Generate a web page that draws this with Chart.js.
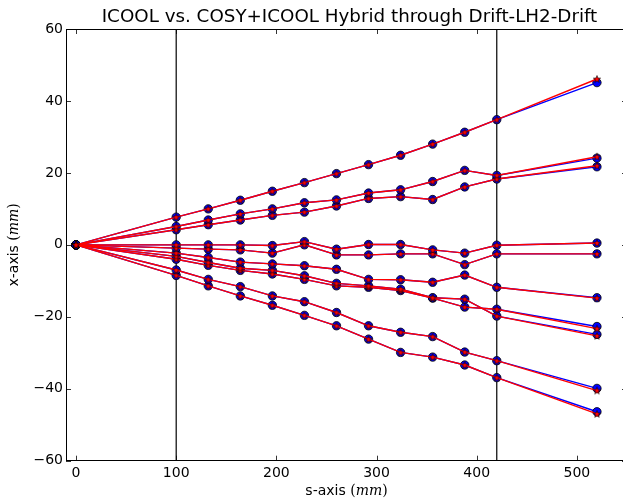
<!DOCTYPE html>
<html><head><meta charset="utf-8">
<script src="https://cdn.jsdelivr.net/npm/chart.js@4"></script>
<style>
html,body{margin:0;padding:0;overflow:hidden;background:#fff;width:623px;height:501px}
#wrap{position:relative;width:640px;height:501px}
</style></head>
<body><div id="wrap"><canvas id="c" width="640" height="501"></canvas></div>
<script>
// s positions (mm) of the recorded points
const sPositions = [0, 100, 132, 164, 196, 228, 260, 292, 324, 356, 388, 420, 520];
// x positions (mm) of each particle, ICOOL (blue circles)
const icoolT1 = [0, 7.7, 10.0, 12.4, 14.9, 17.3, 19.8, 22.3, 24.9, 28.0, 31.3, 34.8, 45.1];
const icoolT2 = [0, 5.1, 6.9, 8.6, 10.0, 11.7, 12.5, 14.4, 15.3, 17.6, 20.7, 19.3, 24.1];
const icoolT3 = [0, 4.2, 5.6, 6.9, 8.2, 9.1, 10.8, 12.9, 13.4, 12.6, 16.1, 18.3, 21.7];
const icoolT4 = [0, 0.0, 0.0, 0.0, -0.2, 0.9, -1.2, 0.1, 0.1, -1.4, -2.3, -0.1, 0.5];
const icoolT5 = [0, -0.9, -1.2, -1.4, -2.3, 0.0, -2.8, -2.8, -2.5, -2.5, -5.5, -2.5, -2.5];
const icoolT6 = [0, -2.3, -3.5, -4.8, -5.3, -5.8, -6.8, -9.6, -9.7, -10.4, -8.4, -11.8, -14.7];
const icoolT7 = [0, -3.2, -4.9, -6.5, -7.1, -8.6, -10.7, -11.4, -12.3, -14.7, -15.1, -19.8, -24.9];
const icoolT8 = [0, -4.0, -5.7, -7.1, -8.1, -9.6, -11.4, -11.8, -12.7, -14.8, -17.3, -17.9, -22.7];
const icoolT9 = [0, -7.0, -9.6, -11.6, -14.2, -15.8, -18.8, -22.5, -24.3, -25.5, -29.8, -32.2, -39.9];
const icoolT10 = [0, -8.5, -11.4, -14.2, -16.8, -19.6, -22.5, -26.2, -29.9, -31.2, -33.4, -36.9, -46.4];
// COSY+ICOOL hybrid (red stars)
const hybridT1 = [0, 7.7, 10.0, 12.4, 14.9, 17.3, 19.8, 22.3, 24.9, 28.0, 31.3, 34.8, 46.1];
const hybridT2 = [0, 5.1, 6.9, 8.6, 10.0, 11.7, 12.5, 14.4, 15.3, 17.6, 20.7, 19.3, 24.5];
const hybridT3 = [0, 4.2, 5.6, 6.9, 8.2, 9.1, 10.8, 12.9, 13.4, 12.6, 16.1, 18.3, 22.0];
const hybridT4 = [0, 0.0, 0.0, 0.0, -0.2, 0.9, -1.2, 0.1, 0.1, -1.4, -2.3, -0.1, 0.5];
const hybridT5 = [0, -0.9, -1.2, -1.4, -2.3, 0.0, -2.8, -2.8, -2.5, -2.5, -5.5, -2.5, -2.5];
const hybridT6 = [0, -2.3, -3.5, -4.8, -5.3, -5.8, -6.8, -9.6, -9.7, -10.4, -8.4, -11.8, -14.8];
const hybridT7 = [0, -3.2, -4.9, -6.5, -7.1, -8.6, -10.7, -11.4, -12.3, -14.7, -15.1, -19.8, -25.3];
const hybridT8 = [0, -4.0, -5.7, -7.1, -8.1, -9.6, -11.4, -11.8, -12.7, -14.8, -17.3, -17.9, -23.3];
const hybridT9 = [0, -7.0, -9.6, -11.6, -14.2, -15.8, -18.8, -22.5, -24.3, -25.5, -29.8, -32.2, -40.5];
const hybridT10 = [0, -8.5, -11.4, -14.2, -16.8, -19.6, -22.5, -26.2, -29.9, -31.2, -33.4, -36.9, -47.0];
// boundaries of the LH2 absorber (mm)
const absorberEdges = [100, 420];
// axis ticks
const xTicks = [0, 100, 200, 300, 400, 500];
const yTicks = [-60, -40, -20, 0, 20, 40, 60];
const xRange = [-10, 550];
const yRange = [-60, 60];

const icoolTracks = [icoolT1, icoolT2, icoolT3, icoolT4, icoolT5, icoolT6, icoolT7, icoolT8, icoolT9, icoolT10];
const hybridTracks = [hybridT1, hybridT2, hybridT3, hybridT4, hybridT5, hybridT6, hybridT7, hybridT8, hybridT9, hybridT10];

const FONT = "'DejaVu Sans', sans-serif";

// filled star marker
const star = document.createElement('canvas');
star.width = 10; star.height = 10;
(function(){
  const g = star.getContext('2d');
  g.beginPath();
  for (let i = 0; i < 10; i++) {
    const r = i % 2 === 0 ? 3.8 : 1.6;
    const a = -Math.PI / 2 + i * Math.PI / 5;
    const px = 5 + r * Math.cos(a), py = 5.3 + r * Math.sin(a);
    if (i === 0) g.moveTo(px, py); else g.lineTo(px, py);
  }
  g.closePath();
  g.fillStyle = '#ff0000'; g.fill();
  g.lineWidth = 0.6; g.strokeStyle = '#000'; g.stroke();
})();

const toPts = arr => sPositions.map((s, i) => ({x: s, y: arr[i]}));

const datasets = [];
absorberEdges.forEach(s => datasets.push({
  data: [{x: s, y: yRange[0]}, {x: s, y: yRange[1]}],
  borderColor: '#000', borderWidth: 1.2, pointRadius: 0, order: 3, fill: false
}));
icoolTracks.forEach(t => datasets.push({
  data: toPts(t), borderColor: '#0000ff', borderWidth: 1.4,
  pointStyle: 'circle', pointRadius: 4.2, pointBackgroundColor: '#0000ff',
  pointBorderColor: '#000', pointBorderWidth: 0.8, order: 2, fill: false, tension: 0
}));
hybridTracks.forEach(t => datasets.push({
  data: toPts(t), borderColor: '#ff0000', borderWidth: 1.4,
  pointStyle: star, pointRadius: 4, order: 1, fill: false, tension: 0
}));

const fmt = v => String(v).replace('-', '\u2212');

const decor = {
  id: 'decor',
  afterDraw(chart) {
    const {ctx, chartArea: a, scales: {x, y}} = chart;
    ctx.save();
    ctx.strokeStyle = '#000'; ctx.lineWidth = 1;
    // top & right spines
    ctx.beginPath();
    ctx.moveTo(a.left, a.top + 0.5); ctx.lineTo(a.right, a.top + 0.5);
    ctx.moveTo(a.right - 0.5, a.top); ctx.lineTo(a.right - 0.5, a.bottom);
    ctx.stroke();
    // inward ticks
    ctx.lineWidth = 0.8;
    ctx.beginPath();
    xTicks.forEach(v => {
      const p = Math.round(x.getPixelForValue(v)) + 0.5;
      ctx.moveTo(p, a.bottom); ctx.lineTo(p, a.bottom - 5);
      ctx.moveTo(p, a.top); ctx.lineTo(p, a.top + 5);
    });
    yTicks.forEach(v => {
      const p = Math.round(y.getPixelForValue(v)) + 0.5;
      ctx.moveTo(a.left, p); ctx.lineTo(a.left + 5, p);
      ctx.moveTo(a.right, p); ctx.lineTo(a.right - 5, p);
    });
    ctx.stroke();
    // title
    ctx.fillStyle = '#000';
    ctx.textAlign = 'center'; ctx.textBaseline = 'alphabetic';
    ctx.font = "18.3px " + FONT;
    ctx.fillText('ICOOL vs. COSY+ICOOL Hybrid through Drift-LH2-Drift', (a.left + a.right) / 2 + 3, a.top - 7);
    // axis labels with math-style unit
    function mixed(parts, cx, cy, rot) {
      ctx.save();
      ctx.translate(cx, cy); ctx.rotate(rot);
      let w = 0;
      parts.forEach(p => { ctx.font = p[1]; w += ctx.measureText(p[0]).width; });
      let xx = -w / 2;
      ctx.textAlign = 'left';
      parts.forEach(p => { ctx.font = p[1]; ctx.fillText(p[0], xx, 0); xx += ctx.measureText(p[0]).width; });
      ctx.restore();
    }
    const sans = "14px " + FONT, serif = "14px 'DejaVu Serif', serif", ital = "italic 14px 'DejaVu Serif', serif";
    mixed([['s-axis ', sans], ['(', serif], ['mm', ital], [')', serif]], (a.left + a.right) / 2, 495, 0);
    mixed([['x-axis ', sans], ['(', serif], ['mm', ital], [')', serif]], 18, (a.top + a.bottom) / 2, -Math.PI / 2);
    ctx.restore();
  }
};

new Chart(document.getElementById('c'), {
  type: 'line',
  data: {datasets},
  options: {
    responsive: false, animation: false, devicePixelRatio: 1,
    layout: {padding: {top: 29, right: 13, left: 0, bottom: 0}},
    plugins: {legend: {display: false}, tooltip: {enabled: false}, title: {display: false}},
    scales: {
      x: {
        type: 'linear', min: xRange[0], max: xRange[1],
        afterBuildTicks: s => { s.ticks = xTicks.map(v => ({value: v})); },
        afterFit: s => { s.height = 40.3; },
        grid: {drawOnChartArea: false, drawTicks: false},
        border: {display: true, color: '#000', width: 1},
        ticks: {padding: 4, color: '#000', font: {family: FONT, size: 14}, maxRotation: 0, callback: fmt}
      },
      y: {
        type: 'linear', min: yRange[0], max: yRange[1],
        afterBuildTicks: s => { s.ticks = yTicks.map(v => ({value: v})); },
        afterFit: s => { s.width = 66; },
        grid: {drawOnChartArea: false, drawTicks: false},
        border: {display: true, color: '#000', width: 1},
        ticks: {padding: 3, color: '#000', font: {family: FONT, size: 14}, callback: fmt}
      }
    }
  },
  plugins: [decor]
});
</script>
</body></html>
